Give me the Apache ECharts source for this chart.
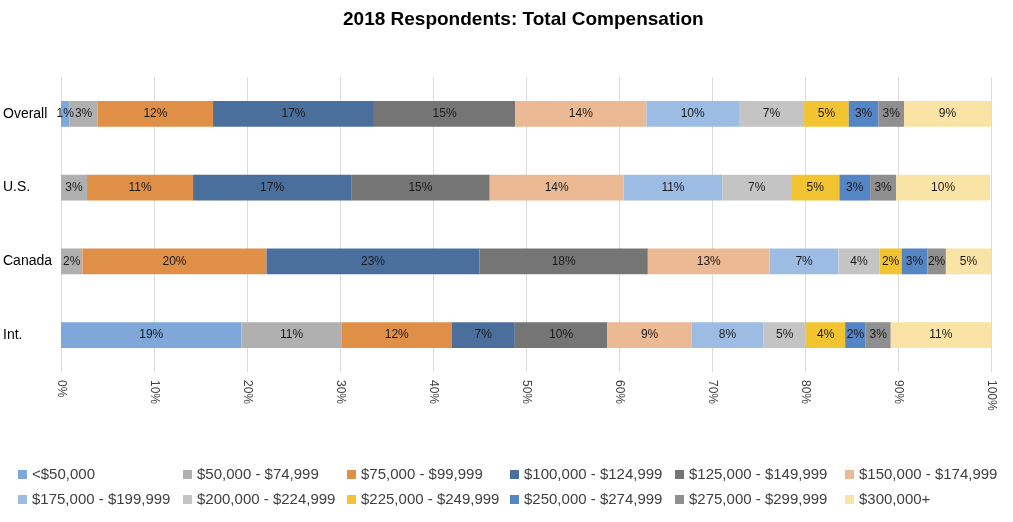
<!DOCTYPE html>
<html><head><meta charset="utf-8">
<script src="https://cdn.jsdelivr.net/npm/echarts@6/dist/echarts.min.js"></script>
<style>html,body{margin:0;padding:0;background:#fff}#c{width:1013px;height:522px}</style>
</head><body><div id="c"></div>
<script>
const categories = ['Overall', 'U.S.', 'Canada', 'Int.'];
const seriesNames = ['<$50,000', '$50,000 - $74,999', '$75,000 - $99,999', '$100,000 - $124,999',
  '$125,000 - $149,999', '$150,000 - $174,999', '$175,000 - $199,999', '$200,000 - $224,999',
  '$225,000 - $249,999', '$250,000 - $274,999', '$275,000 - $299,999', '$300,000+'];
const under50 = [0.9, 0, 0, 19.4];
const k50_75 = [3.05, 2.8, 2.3, 10.8];
const k75_100 = [12.4, 11.4, 19.8, 11.8];
const k100_125 = [17.3, 17.0, 22.9, 6.8];
const k125_150 = [15.2, 14.9, 18.1, 9.95];
const k150_175 = [14.1, 14.4, 13.1, 9.07];
const k175_200 = [9.95, 10.6, 7.4, 7.7];
const k200_225 = [7.0, 7.4, 4.4, 4.6];
const k225_250 = [4.8, 5.2, 2.4, 4.2];
const k250_275 = [3.2, 3.3, 2.75, 2.2];
const k275_300 = [2.75, 2.8, 2.0, 2.7];
const over300 = [9.4, 10.1, 4.9, 10.9];
const xTicks = [0, 10, 20, 30, 40, 50, 60, 70, 80, 90, 100];

const values = [under50, k50_75, k75_100, k100_125, k125_150, k150_175, k175_200, k200_225, k225_250, k250_275, k275_300, over300];
const colors = ['#7FA7D9', '#B0B0B0', '#E08F47', '#4A6F9C', '#757575', '#EBB994', '#9DBCE3', '#C4C4C4', '#F2C431', '#5485C4', '#8F8F8F', '#F9E4A6'];

const series = seriesNames.map((n, i) => ({
  name: n, type: 'bar', stack: 'total', barWidth: '35%',
  data: values[i],
  itemStyle: { color: colors[i] },
  label: {
    show: true, position: 'inside', color: '#1a1a1a', fontSize: 12,
    fontFamily: 'Liberation Sans',
    formatter: p => p.value > 0 ? Math.round(p.value) + '%' : ''
  },
  emphasis: { disabled: true }
}));

const legendLefts = [18, 183, 347, 510, 675, 845];
const legends = legendLefts.map((l, i) => ({
  orient: 'vertical', left: l, top: 467, itemGap: 10, padding: 0,
  itemWidth: 9, itemHeight: 9, icon: 'rect',
  data: [seriesNames[i], seriesNames[i + 6]],
  textStyle: { fontSize: 15, color: '#404040', fontFamily: 'Liberation Sans' },
  selectedMode: false
}));

const chart = echarts.init(document.getElementById('c'));
chart.setOption({
  animation: false,
  title: { text: '2018 Respondents: Total Compensation', left: 338, top: 5,
    textStyle: { fontSize: 19, fontWeight: 'bold', color: '#000', fontFamily: 'Liberation Sans' } },
  legend: legends,
  grid: { left: 60, right: 22, top: 77, bottom: 150 },
  xAxis: {
    type: 'value', min: 0, max: 100, interval: 10,
    axisLine: { show: false }, axisTick: { show: false },
    splitLine: { lineStyle: { color: '#dcdcdc' } },
    axisLabel: { rotate: -90, formatter: v => xTicks.includes(v) ? v + '%' : '', color: '#404040', fontSize: 12,
      fontFamily: 'Liberation Sans', margin: 8 }
  },
  yAxis: {
    type: 'category', data: categories, inverse: true,
    axisLine: { show: false }, axisTick: { show: false },
    axisLabel: { align: 'left', margin: 58, color: '#000', fontSize: 14, fontFamily: 'Liberation Sans' }
  },
  series: series
});
</script></body></html>
